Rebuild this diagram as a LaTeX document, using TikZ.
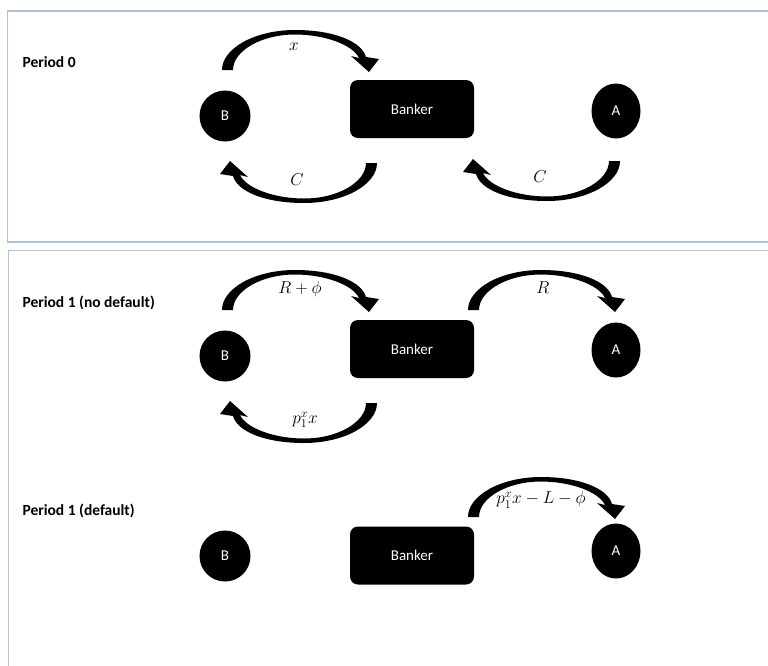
\documentclass[tikz,border=0pt]{standalone}
\usepackage{fontspec}
\setmainfont{Carlito}
\usetikzlibrary{shapes.geometric}
\definecolor{framegray}{RGB}{176,194,216}
\begin{document}
\begin{tikzpicture}[x=1pt,y=-1pt,
  panel/.style={draw=framegray,line width=1.5pt},
  banker/.style={fill=black,rounded corners=8pt,minimum width=124pt,minimum height=58pt,
    inner sep=0pt,text=white,font=\fontsize{15}{18}\selectfont},
  agent/.style={ellipse,fill=black,inner sep=0pt,text=white,font=\fontsize{15}{18}\selectfont},
  agentB/.style={agent,minimum width=51pt,minimum height=51pt},
  agentA/.style={agent,minimum width=49pt,minimum height=55pt},
  period/.style={anchor=west,font=\bfseries\fontsize{15.5}{18}\selectfont},
  amount/.style={font=\fontsize{16.5}{19}\selectfont},
  % curved block arrow: thick foot at the origin, arching over to a head on the right
  pics/bentarrow/.style={code={
    \fill[black] (0,0) .. controls (0,-21.5) and (32.7,-40) .. (73,-40)
      .. controls (113,-40) and (140,-28) .. (144,-13)
      -- (157,-11) -- (147,2) -- (129,-14) -- (137,-12)
      .. controls (131,-25) and (103,-35.5) .. (73,-35.5)
      .. controls (39,-35.5) and (11,-19) .. (11,0) -- cycle;}}]
\useasboundingbox (0,0) rectangle (768,665);
\fill[white] (0,0) rectangle (768,665);

% panel frames, running past the right and bottom edges
\begin{scope}
  \clip (0,0) rectangle (768,665);
  \draw[panel] (7.5,11) rectangle (790,242);
  \draw[panel] (8.5,250.5) rectangle (790,690);
\end{scope}

% ---- Period 0 ----
\node[period] (P0) at (19,62) {Period 0};
\node[banker] (K0) at (412,109) {Banker};
\node[agentB] (B0) at (225,116) {B};
\node[agentA] (A0) at (616,111) {A};
\pic at (222,70) {bentarrow};
\pic[rotate=180] at (377,163) {bentarrow};
\pic[rotate=180] at (620,161) {bentarrow};
\node[amount] (x0) at (294,47) {$x$};
\node[amount] (c0) at (297,180) {$C$};
\node[amount] (c1) at (540,177) {$C$};

% ---- Period 1, no default ----
\node[period] (P1) at (19,303) {Period 1 (no default)};
\node[banker] (K1) at (412,349) {Banker};
\node[agentB] (B1) at (225,356) {B};
\node[agentA] (A1) at (616,350) {A};
\pic at (222,310) {bentarrow};
\pic at (468,310) {bentarrow};
\pic[rotate=180] at (377,403) {bentarrow};
\node[amount] (r1) at (300,289) {$R+\phi$};
\node[amount] (r2) at (543,288) {$R$};
\node[amount] (p1) at (305,420) {$p_1^x x$};

% ---- Period 1, default ----
\node[period] (P2) at (19,511) {Period 1 (default)};
\node[banker] (K2) at (412,555.5) {Banker};
\node[agentB] (B2) at (225,556) {B};
\node[agentA] (A2) at (616,551) {A};
\pic at (468,517) {bentarrow};
\node[amount] (d1) at (541,500) {$p_1^x x-L-\phi$};
\end{tikzpicture}
\end{document}
